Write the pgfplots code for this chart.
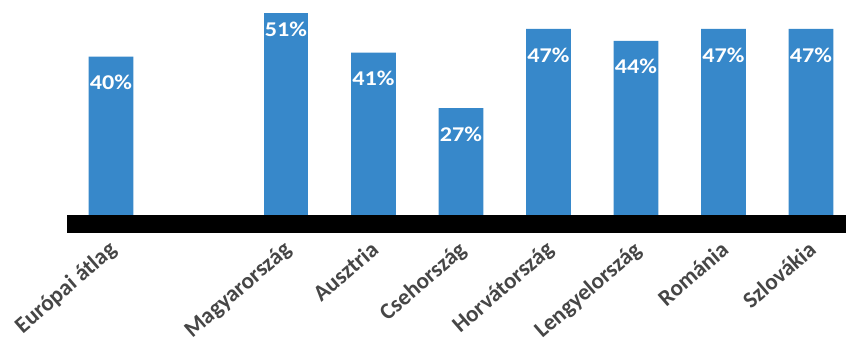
\documentclass[border=0pt]{standalone}
\usepackage{fontspec}
\setmainfont{Carlito}
\usepackage{pgfplots}
\pgfplotsset{compat=1.18}
\definecolor{barblue}{RGB}{55,136,202}
\definecolor{labgray}{RGB}{70,70,70}
\begin{document}
\begin{tikzpicture}
\useasboundingbox (-67pt,-137pt) rectangle (779pt,215pt);
\begin{axis}[
  scale only axis, width=779pt, height=215pt,
  xmin=-0.503, xmax=8.4, ymin=0, ymax=54.3,
  enlargelimits=false, clip=false,
  axis line style={draw=none},
  ytick=\empty, major tick length=0pt,
  /pgf/number format/assume math mode=true,
  xtick={0,2,3,4,5,6,7,8},
  xticklabels={Európai átlag, Magyarország, Ausztria, Csehország, Horvátország, Lengyelország, Románia, Szlovákia},
  xticklabel style={xshift=-4pt, yshift=-23pt, rotate=41, anchor=north east, inner sep=1pt, font=\fontsize{23}{23}\selectfont\bfseries, text=labgray},
  ybar, bar width=0.514, bar shift=0pt,
]
\addplot[fill=barblue, draw=none,
  nodes near coords={\pgfmathprintnumber{\pgfplotspointmeta}\%},
  nodes near coords style={font=\fontsize{21}{21}\selectfont\bfseries, text=white, anchor=center, yshift=-26pt, xscale=1.15}]
  coordinates {(0,40) (3,41) (4,27) (5,47) (6,44) (7,47) (8,47)};
\addplot[fill=barblue, draw=none,
  nodes near coords={\pgfmathprintnumber{\pgfplotspointmeta}\%},
  nodes near coords style={font=\fontsize{21}{21}\selectfont\bfseries, text=white, anchor=center, yshift=-16pt, xscale=1.15}]
  coordinates {(2,51)};
\fill[black] (axis cs:-0.503,0) rectangle (axis cs:8.4,-4.55);
\end{axis}
\end{tikzpicture}
\end{document}
